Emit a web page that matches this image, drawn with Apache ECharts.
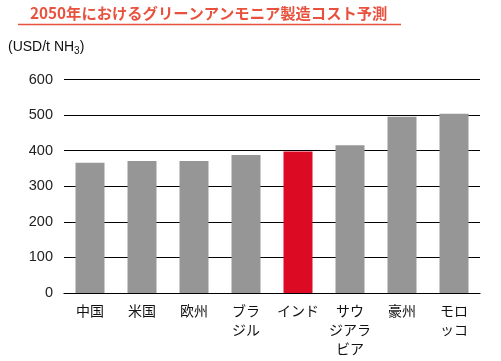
<!DOCTYPE html>
<html>
<head>
<meta charset="utf-8">
<script src="https://cdn.jsdelivr.net/npm/echarts@6/dist/echarts.min.js"></script>
<style>html,body{margin:0;padding:0;background:#fff;}#c{width:501px;height:361px;}</style>
</head>
<body>
<div id="c"></div>
<script>
const categories = ['中国', '米国', '欧州', 'ブラ\nジル', 'インド', 'サウ\nジアラ\nビア', '豪州', 'モロ\nッコ'];
const costs = [366, 371, 371, 388, 398, 415, 495, 504];
const yTicks = [0, 100, 200, 300, 400, 500, 600];
const highlight = 'インド';

const FONT = '"Liberation Sans", "Noto Sans CJK JP", sans-serif';
const chart = echarts.init(document.getElementById('c'), null, {renderer: 'canvas'});
chart.setOption({
  animation: false,
  backgroundColor: '#fff',
  title: {
    text: '2050年におけるグリーンアンモニア製造コスト予測',
    left: 25, top: 1,
    textStyle: {color: '#e8513d', fontSize: 15.3, fontWeight: 'bold', fontFamily: '"Noto Sans CJK JP", sans-serif'}
  },
  graphic: [
    {type: 'line', shape: {x1: 18, y1: 24.5, x2: 401, y2: 24.5}, style: {stroke: '#e8513d', lineWidth: 1.5}},
    {type: 'text', left: 8, top: 40, style: {
      text: '(USD/t NH{s|3})',
      fill: '#111', font: '14px ' + FONT,
      rich: {s: {fontSize: 10, padding: [9, 0, 0, 0], fill: '#111', fontFamily: FONT}}
    }}
  ],
  grid: {left: 64, right: 21, top: 79.5, bottom: 68},
  xAxis: {
    type: 'category',
    data: categories,
    axisLine: {lineStyle: {color: '#000', width: 1.2}},
    axisTick: {show: false},
    axisLabel: {color: '#111', fontSize: 14, lineHeight: 19, margin: 8, fontFamily: '"Noto Sans CJK JP", sans-serif', interval: 0}
  },
  yAxis: {
    type: 'value',
    min: yTicks[0], max: yTicks[yTicks.length - 1], interval: yTicks[1] - yTicks[0],
    axisLine: {show: false},
    axisTick: {show: false},
    splitLine: {lineStyle: {color: '#000', width: 1.2}},
    axisLabel: {color: '#222', fontSize: 14.5, margin: 11, fontFamily: FONT}
  },
  series: [{
    type: 'bar',
    barWidth: 29,
    data: costs.map((v, i) => ({
      value: v,
      itemStyle: {color: categories[i] === highlight ? '#dc0a23' : '#969696'}
    }))
  }]
});
</script>
</body>
</html>
